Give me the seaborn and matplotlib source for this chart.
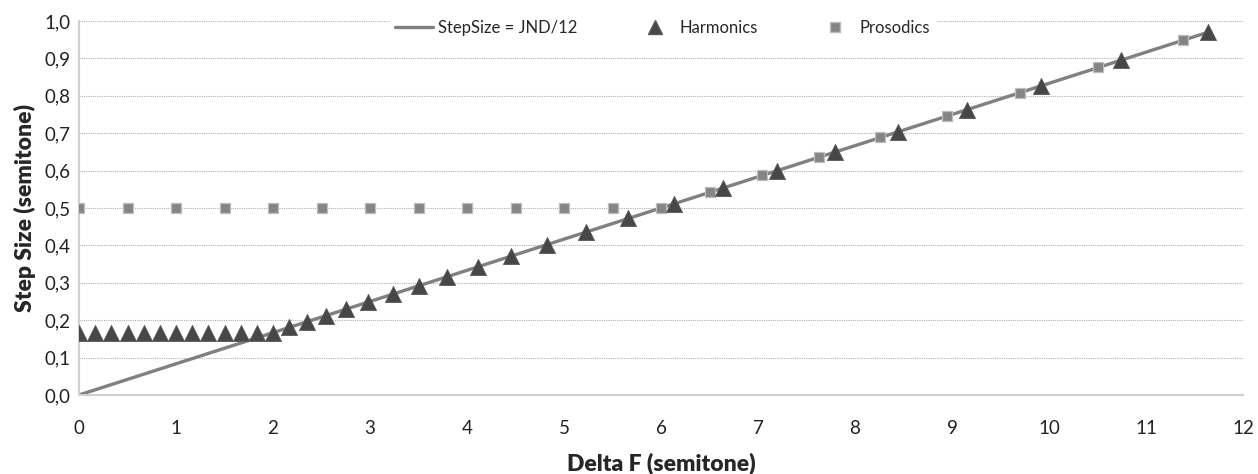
import matplotlib
matplotlib.use("Agg")
import matplotlib.pyplot as plt
import seaborn as sns
from matplotlib.lines import Line2D
from matplotlib.ticker import FuncFormatter

# Data
line_x = [0.0, 11.64]
line_y = [0.0, 0.97]

harm_x = [0.0, 0.167, 0.333, 0.5, 0.667, 0.833, 1.0, 1.167, 1.333, 1.5, 1.667, 1.833, 2.0,
          2.167, 2.347, 2.543, 2.755, 2.984, 3.233, 3.502, 3.794, 4.11, 4.453, 4.824,
          5.226, 5.661, 6.133, 6.644, 7.198, 7.798, 8.447, 9.151, 9.914, 10.74, 11.635]
harm_y = [0.167] * 13 + [0.181, 0.196, 0.212, 0.23, 0.249, 0.269, 0.292, 0.316, 0.343,
                         0.371, 0.402, 0.436, 0.472, 0.511, 0.554, 0.6, 0.65, 0.704,
                         0.763, 0.826, 0.895, 0.97]

pros_x = [0.0, 0.5, 1.0, 1.5, 2.0, 2.5, 3.0, 3.5, 4.0, 4.5, 5.0, 5.5, 6.0,
          6.5, 7.04, 7.63, 8.26, 8.95, 9.7, 10.51, 11.38]
pros_y = [0.5] * 13 + [0.542, 0.587, 0.636, 0.689, 0.746, 0.808, 0.876, 0.949]

sns.set_style("white")
plt.rcParams['font.family'] = ['Lato', 'DejaVu Sans']

fig = plt.figure(figsize=(12.58, 4.74), dpi=100)
ax = fig.add_axes([0.0628, 0.1667, 0.9253, 0.789])

line_col = '#808080'
harm_col = '#474747'
pros_col = '#858585'

sns.lineplot(x=line_x, y=line_y, ax=ax, color=line_col, linewidth=2.4, zorder=2)
sns.scatterplot(x=harm_x, y=harm_y, ax=ax, marker='^', s=135, color=harm_col,
                edgecolor='#5a5a5a', linewidth=0.6, zorder=4)
sns.scatterplot(x=pros_x, y=pros_y, ax=ax, marker='s', s=55, color=pros_col,
                edgecolor='#bdbdbd', linewidth=0.9, zorder=3)

ax.set_xlim(0, 12)
ax.set_ylim(0, 1.0)
ax.set_xticks(range(0, 13))
ax.set_yticks([i / 10 for i in range(11)])
ax.yaxis.set_major_formatter(FuncFormatter(lambda v, p: f"{v:.1f}".replace('.', ',')))
ax.tick_params(axis='both', length=0, labelsize=13.5, colors='#222222')
ax.tick_params(axis='x', pad=18)
ax.tick_params(axis='y', pad=6)

ax.yaxis.grid(True, linestyle=(0, (1, 1)), color='#b0b0b0', linewidth=0.8)
ax.xaxis.grid(False)
for side in ['top', 'right']:
    ax.spines[side].set_visible(False)
for side in ['left', 'bottom']:
    ax.spines[side].set_color('#d0d0d0')
    ax.spines[side].set_linewidth(1.5)

ax.set_xlabel('Delta F (semitone)', fontsize=16.5, fontweight='heavy', labelpad=11)
ax.set_ylabel('Step Size (semitone)', fontsize=16.5, fontweight='heavy', labelpad=6)

handles = [
    Line2D([0], [0], color=line_col, linewidth=2.4),
    Line2D([0], [0], marker='^', color='none', markerfacecolor=harm_col,
           markeredgecolor='#5a5a5a', markersize=10),
    Line2D([0], [0], marker='s', color='none', markerfacecolor=pros_col,
           markeredgecolor='#bdbdbd', markersize=7),
]
leg = ax.legend(handles, ['StepSize = JND/12', 'Harmonics', 'Prosodics'],
                loc='center', bbox_to_anchor=(0.501, 0.981), ncol=3,
                frameon=True, fontsize=12, handlelength=2.3, handletextpad=0.3,
                columnspacing=3.5, borderpad=0.3)
leg.get_frame().set_facecolor('white')
leg.get_frame().set_edgecolor('white')
leg.get_frame().set_alpha(1)
leg.set_zorder(10)

fig.savefig('out.png', dpi=100)
